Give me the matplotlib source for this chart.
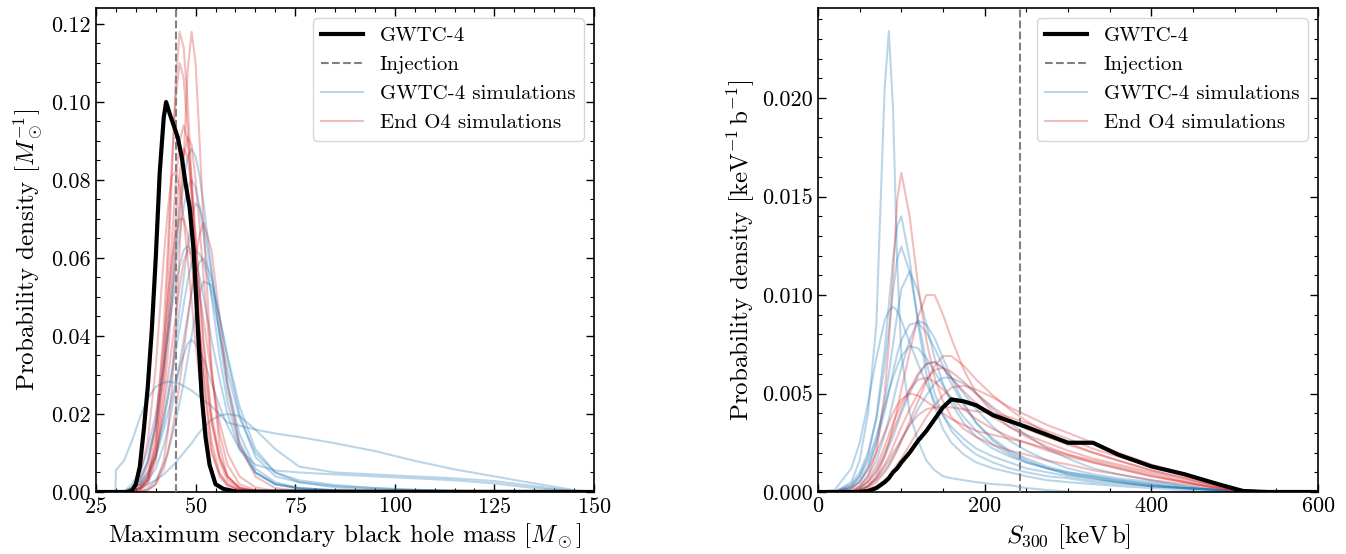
import numpy as np
import matplotlib
matplotlib.use("Agg")
import matplotlib.pyplot as plt
from matplotlib.ticker import MultipleLocator, FormatStrFormatter
from matplotlib.lines import Line2D

plt.rcParams['font.family'] = 'serif'
plt.rcParams['font.serif'] = ['cmr10']
plt.rcParams['mathtext.fontset'] = 'cm'
plt.rcParams['axes.formatter.use_mathtext'] = True

# ---- left panel: maximum secondary BH mass ----
mass_grid = [25, 29.9, 30, 32, 34, 36, 38, 40, 42, 43, 44, 45, 46, 47, 48, 49, 50,
             51, 52, 54, 56, 58, 61, 65, 70, 76, 85, 95, 105, 115, 125, 135, 145, 150]
mass_gwtc4_x = [25, 33, 34, 35, 36, 37, 38, 39, 40, 41, 42, 42.6, 43.5, 44.5, 45.5, 46.5, 47.5,
                48.5, 49.5, 50.5, 51.5, 52.5, 53.5, 55, 57, 60, 150]
mass_gwtc4 = [0, 0, .0003, .002, .0065, .016, .027, .0415, .060, .082, .096, .100, .097, .094,
              .091, .086, .079, .073, .062, .043, .025, .014, .007, .002, .0008, .0001, 0]
mass_injection = 45

mass_blue = [
    [0, 0, 0, 0, .001, .003, .008, .017, .032, .042, .052, .062, .072, .080, .086, .088,
     .086, .081, .074, .057, .040, .026, .013, .005, .002, .0008, .0003, 0, 0, 0, 0, 0, 0, 0],
    [0, 0, 0, 0, .001, .003, .008, .017, .031, .040, .049, .058, .066, .073, .078, .080,
     .078, .073, .066, .050, .035, .023, .012, .005, .002, .001, .0004, .0001, 0, 0, 0, 0, 0, 0],
    [0, 0, 0, 0, .002, .005, .011, .020, .033, .040, .047, .053, .058, .062, .063, .062,
     .059, .055, .050, .039, .029, .020, .011, .005, .002, .001, .0005, .0002, 0, 0, 0, 0, 0, 0],
    [0, 0, 0, 0, .0005, .001, .003, .006, .012, .016, .021, .027, .033, .039, .045, .051,
     .056, .059, .060, .055, .045, .034, .020, .009, .004, .0025, .0015, .001, .0006, .0003, .0001, 0, 0, 0],
    [0, 0, 0, 0, .001, .002, .005, .009, .016, .020, .024, .028, .032, .035, .038, .039,
     .038, .036, .034, .028, .022, .017, .011, .007, .0055, .005, .0045, .004, .0035, .003, .0022, .001, .0002, 0],
    [0, 0, .0056, .008, .013, .019, .024, .027, .028, .0283, .0282, .028, .0277, .0272, .0266, .026,
     .0252, .0244, .0236, .022, .020, .0178, .017, .016, .015, .0141, .0125, .0105, .0080, .0058, .0040, .0022, .0005, 0],
    [0, 0, 0, 0, .0005, .001, .002, .003, .0045, .0055, .0065, .0075, .0088, .010, .0113, .0125,
     .014, .0153, .0165, .0185, .0196, .020, .0195, .016, .011, .0065, .005, .0045, .004, .0035, .0028, .0015, .0002, 0],
    [0, 0, 0, 0, .0005, .0015, .004, .009, .018, .024, .031, .039, .047, .055, .063, .070,
     .074, .073, .069, .056, .041, .028, .015, .006, .0025, .001, .0004, .0001, 0, 0, 0, 0, 0, 0],
    [0, 0, 0, 0, .001, .002, .005, .010, .019, .024, .030, .036, .042, .048, .054, .059,
     .062, .061, .059, .051, .041, .031, .019, .010, .005, .003, .0018, .001, .0005, .0002, 0, 0, 0, 0],
    [0, 0, 0, 0, 0, 0, .001, .003, .007, .010, .014, .018, .023, .028, .034, .040,
     .046, .051, .054, .053, .045, .035, .022, .011, .005, .0025, .0012, .0006, .0002, 0, 0, 0, 0, 0],
]
mass_red = [
    [0, 0, 0, 0, 0, .0005, .003, .012, .035, .055, .080, .105, .118, .114, .100, .080,
     .060, .042, .028, .011, .004, .0015, .0004, .0001, 0, 0, 0, 0, 0, 0, 0, 0, 0, 0],
    [0, 0, 0, 0, 0, 0, .0005, .002, .008, .015, .026, .042, .062, .085, .108, .118,
     .110, .090, .068, .032, .012, .004, .001, .0002, 0, 0, 0, 0, 0, 0, 0, 0, 0, 0],
    [0, 0, 0, 0, 0, .001, .004, .015, .042, .062, .084, .101, .110, .106, .093, .076,
     .058, .042, .029, .013, .005, .002, .0005, .0001, 0, 0, 0, 0, 0, 0, 0, 0, 0, 0],
    [0, 0, 0, 0, 0, .001, .004, .012, .032, .047, .064, .079, .090, .094, .090, .080,
     .066, .052, .039, .020, .009, .004, .001, .0003, 0, 0, 0, 0, 0, 0, 0, 0, 0, 0],
    [0, 0, 0, 0, 0, .0005, .002, .008, .024, .035, .048, .062, .075, .086, .091, .089,
     .080, .068, .055, .031, .015, .007, .002, .0005, 0, 0, 0, 0, 0, 0, 0, 0, 0, 0],
    [0, 0, 0, 0, .001, .004, .013, .032, .060, .072, .081, .082, .078, .070, .060, .049,
     .038, .029, .021, .010, .0045, .002, .0006, .0001, 0, 0, 0, 0, 0, 0, 0, 0, 0, 0],
    [0, 0, 0, 0, .0005, .002, .007, .018, .038, .049, .059, .066, .070, .070, .066, .059,
     .050, .041, .032, .018, .009, .004, .0012, .0003, 0, 0, 0, 0, 0, 0, 0, 0, 0, 0],
    [0, 0, 0, 0, 0, 0, .0005, .002, .006, .010, .015, .021, .028, .036, .044, .052,
     .060, .066, .069, .062, .045, .028, .012, .004, .001, .0003, 0, 0, 0, 0, 0, 0, 0, 0],
    [0, 0, 0, 0, 0, .001, .003, .009, .021, .029, .037, .045, .053, .059, .062, .061,
     .057, .051, .044, .030, .018, .010, .004, .0012, .0003, 0, 0, 0, 0, 0, 0, 0, 0, 0],
    [0, 0, 0, 0, 0, .0005, .003, .010, .028, .041, .056, .070, .082, .088, .086, .077,
     .064, .050, .037, .018, .008, .003, .001, .0002, 0, 0, 0, 0, 0, 0, 0, 0, 0, 0],
]

# ---- right panel: S300 ----
s_grid = [0, 20, 40, 50, 60, 70, 80, 85, 90, 95, 100, 110, 120, 130, 140, 150,
          160, 175, 190, 210, 230, 250, 275, 300, 330, 360, 400, 440, 480, 510, 540, 600]
s_gwtc4 = [0, 0, 0, 0, .00005, .0002, .0005, .0007, .001, .0012, .0015, .002, .0026, .0031, .0037, .0043,
           .0047, .0046, .0044, .0039, .0036, .0033, .0029, .0025, .0025, .0019, .0013, .0009, .0004, .00005, 0, 0]
s_injection = 242

s_blue = [
    [0, 0, .0005, .0016, .0040, .0085, .0205, .0234, .0195, .0117, .0070, .0040, .0026, .0016, .0011, .0008,
     .0007, .0006, .0005, .0004, .00035, .0002, .0001, .00003, 0, 0, 0, 0, 0, 0, 0, 0],
    [0, 0, .0003, .0008, .0018, .0038, .0072, .0095, .0118, .0135, .0140, .0118, .0085, .0060, .0043, .0032,
     .0025, .0019, .0015, .0012, .0010, .0008, .0006, .0005, .0004, .0003, .0002, .0001, .00005, 0, 0, 0],
    [0, 0, .0004, .0010, .0020, .0037, .0064, .0082, .0102, .0118, .01245, .0112, .0088, .0066, .0050, .0039,
     .0031, .0024, .0019, .0015, .0012, .0010, .0008, .0007, .0005, .0004, .0003, .0002, .0001, .00003, 0, 0],
    [0, 0, .0002, .0006, .0013, .0026, .0046, .0060, .0075, .0090, .0103, .0112, .0102, .0085, .0068, .0055,
     .0045, .0035, .0028, .0022, .0018, .0015, .0012, .0010, .0008, .0006, .0004, .0002, .0001, 0, 0, 0],
    [0, .0001, .0012, .0025, .0045, .0068, .0087, .0092, .0094, .0092, .0087, .0076, .0065, .0055, .0046, .0039,
     .0033, .0027, .0022, .0018, .0015, .0012, .0010, .0008, .0006, .0005, .0003, .0002, .0001, 0, 0, 0],
    [0, 0, .0002, .0005, .0012, .0024, .0041, .0051, .0061, .0070, .0077, .0085, .0086, .0081, .0073, .0064,
     .0055, .0044, .0035, .0027, .0021, .0017, .0013, .0010, .0008, .0006, .0004, .0002, .0001, 0, 0, 0],
    [0, 0, 0, .0003, .0008, .0016, .0029, .0037, .0046, .0055, .0063, .0077, .0087, .0085, .0078, .0068,
     .0058, .0045, .0035, .0026, .0020, .0016, .0012, .0009, .0007, .0005, .0003, .0002, .0001, 0, 0, 0],
    [0, 0, .0003, .0008, .0016, .0028, .0043, .0051, .0058, .0064, .0069, .0074, .0073, .0068, .0061, .0054,
     .0047, .0038, .0031, .0024, .0019, .0015, .0012, .0009, .0007, .0005, .0003, .0002, .0001, 0, 0, 0],
    [0, 0, 0, .0002, .0005, .0010, .0018, .0023, .0028, .0034, .0040, .0050, .0059, .0065, .0066, .0063,
     .0058, .0050, .0042, .0033, .0026, .0021, .0016, .0012, .0009, .0007, .0005, .0003, .0001, 0, 0, 0],
    [0, 0, 0, .0001, .0003, .0006, .0011, .0014, .0018, .0022, .0026, .0034, .0042, .0049, .0055, .0058,
     .0058, .0055, .0050, .0042, .0035, .0029, .0022, .0017, .0012, .0009, .0006, .0003, .0001, 0, 0, 0],
]
s_red = [
    [0, 0, .0001, .0003, .0008, .0020, .0050, .0075, .0110, .0148, .0162, .0140, .0105, .0077, .0058, .0046,
     .0038, .0032, .0028, .0024, .0021, .0019, .0016, .0014, .0011, .0009, .0006, .0004, .0002, .00003, 0, 0],
    [0, 0, 0, .0001, .0003, .0008, .0018, .0025, .0033, .0042, .0052, .0071, .0089, .0100, .0100, .0090,
     .0078, .0062, .0050, .0040, .0033, .0028, .0023, .0019, .0015, .0012, .0008, .0005, .0002, .00003, 0, 0],
    [0, 0, 0, .0001, .0002, .0005, .0010, .0013, .0017, .0021, .0026, .0036, .0046, .0056, .0064, .0069,
     .0069, .0064, .0057, .0049, .0042, .0036, .0030, .0025, .0020, .0016, .0011, .0007, .0003, .00005, 0, 0],
    [0, 0, 0, .0002, .0005, .0011, .0020, .0025, .0031, .0036, .0042, .0052, .0060, .0065, .0066, .0063,
     .0058, .0051, .0045, .0038, .0033, .0029, .0025, .0021, .0017, .0014, .0010, .0006, .0003, .00005, 0, 0],
    [0, 0, 0, 0, .0003, .0007, .0014, .0018, .0023, .0028, .0033, .0042, .0050, .0057, .0062, .0063,
     .0061, .0056, .0050, .0043, .0037, .0032, .0028, .0024, .0020, .0016, .0011, .0007, .0003, .00005, 0, 0],
    [0, 0, 0, .0001, .0003, .0007, .0013, .0016, .0020, .0023, .0027, .0034, .0039, .0042, .0043, .0043,
     .0043, .0042, .0041, .0040, .0038, .0035, .0031, .0027, .0022, .0018, .0013, .0008, .0004, .0001, 0, 0],
    [0, 0, 0, .0002, .0006, .0013, .0023, .0029, .0035, .0040, .0045, .0052, .0057, .0058, .0056, .0052,
     .0048, .0042, .0037, .0032, .0028, .0025, .0021, .0018, .0015, .0012, .0008, .0005, .0002, 0, 0, 0],
    [0, 0, 0, 0, .0001, .0003, .0006, .0008, .0011, .0014, .0017, .0024, .0031, .0038, .0044, .0049,
     .0053, .0054, .0052, .0048, .0043, .0039, .0034, .0030, .0025, .0020, .0014, .0009, .0004, .0001, 0, 0],
    [0, 0, .0002, .0005, .0011, .0020, .0030, .0035, .0040, .0044, .0047, .0050, .0049, .0046, .0043, .0040,
     .0037, .0034, .0031, .0029, .0027, .0025, .0022, .0019, .0016, .0013, .0009, .0005, .0002, .00003, 0, 0],
]

for c in mass_blue + mass_red:
    assert len(c) == len(mass_grid), len(c)
assert len(mass_gwtc4) == len(mass_gwtc4_x)
for c in s_blue + s_red + [s_gwtc4]:
    assert len(c) == len(s_grid), len(c)

blue = '#1f77b4'
red = '#d62728'


def draw_panel(ax, grid, sims_blue, sims_red, gx, gwtc4, inj):
    for y in sims_blue:
        ax.plot(grid, y, color=blue, alpha=0.3, lw=1.5, zorder=2)
    for y in sims_red:
        ax.plot(grid, y, color=red, alpha=0.3, lw=1.5, zorder=2)
    ax.plot(gx, gwtc4, color='k', lw=3, zorder=4)
    ax.axvline(inj, color='gray', ls='--', lw=1.5, zorder=3)
    handles = [Line2D([], [], color='k', lw=3),
               Line2D([], [], color='gray', ls='--', lw=1.5),
               Line2D([], [], color=blue, alpha=0.3, lw=1.5),
               Line2D([], [], color=red, alpha=0.3, lw=1.5)]
    ax.legend(handles, ['GWTC-4', 'Injection', 'GWTC-4 simulations', 'End O4 simulations'],
              loc='upper right', fontsize=15)
    ax.tick_params(which='both', direction='in', top=True, right=True, labelsize=16)
    ax.tick_params(which='major', length=6, width=1)
    ax.tick_params(which='minor', length=3, width=0.8)
    for s in ax.spines.values():
        s.set_linewidth(1.2)


fig = plt.figure(figsize=(13.46, 5.54), dpi=100)
ax1 = fig.add_axes([96 / 1346, 1 - 492 / 554, 498 / 1346, 484 / 554])
ax2 = fig.add_axes([818 / 1346, 1 - 492 / 554, 500 / 1346, 484 / 554])

draw_panel(ax1, mass_grid, mass_blue, mass_red, mass_gwtc4_x, mass_gwtc4, mass_injection)
ax1.set_xlim(25, 150)
ax1.set_ylim(0, 0.1241)
ax1.xaxis.set_major_locator(MultipleLocator(25))
ax1.xaxis.set_minor_locator(MultipleLocator(5))
ax1.yaxis.set_major_locator(MultipleLocator(0.02))
ax1.yaxis.set_minor_locator(MultipleLocator(0.005))
ax1.yaxis.set_major_formatter(FormatStrFormatter('%.2f'))
ax1.set_xlabel(r'Maximum secondary black hole mass $[M_\odot]$', fontsize=18)
ax1.set_ylabel(r'Probability density $[M_\odot^{-1}]$', fontsize=18)

draw_panel(ax2, s_grid, s_blue, s_red, s_grid, s_gwtc4, s_injection)
ax2.set_xlim(0, 600)
ax2.set_ylim(0, 0.02457)
ax2.xaxis.set_major_locator(MultipleLocator(200))
ax2.xaxis.set_minor_locator(MultipleLocator(50))
ax2.yaxis.set_major_locator(MultipleLocator(0.005))
ax2.yaxis.set_minor_locator(MultipleLocator(0.001))
ax2.yaxis.set_major_formatter(FormatStrFormatter('%.3f'))
ax2.set_xlabel(r'$S_{300}$ $[\mathrm{keV\,b}]$', fontsize=18)
ax2.set_ylabel(r'Probability density $[\mathrm{keV}^{-1}\,\mathrm{b}^{-1}]$', fontsize=18)

fig.savefig('out.png', dpi=100)
